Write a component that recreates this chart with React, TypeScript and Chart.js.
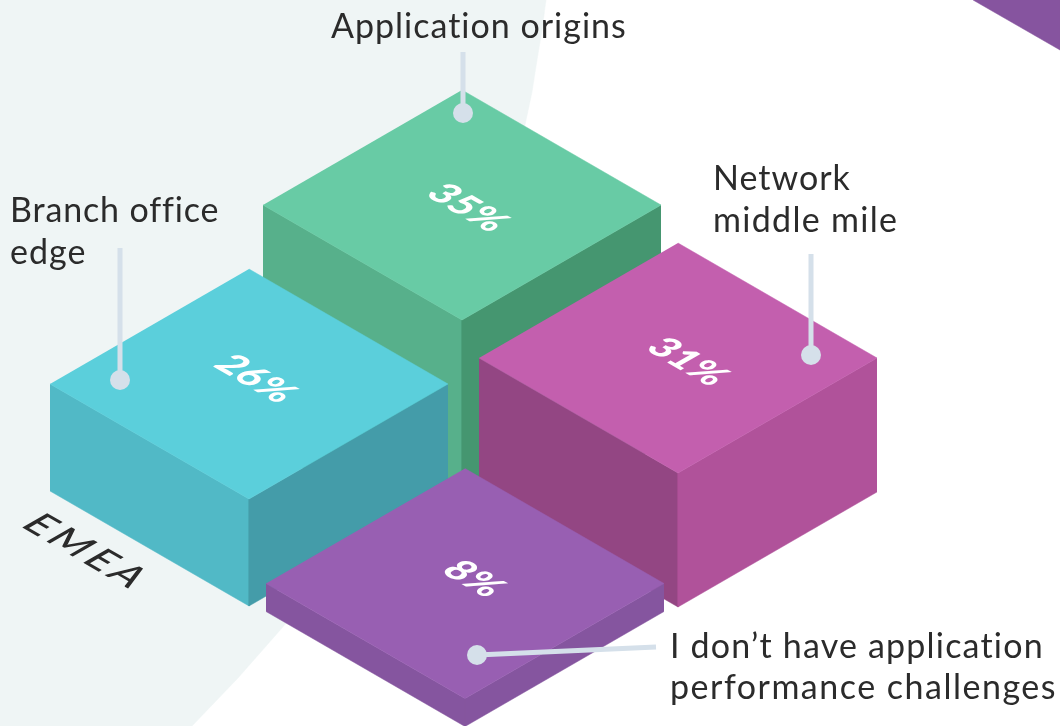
import React, { useEffect, useRef } from "react";
import { Chart, registerables } from "chart.js";

Chart.register(...registerables);

// Blocks, in plot units of a 1060 x 726 isometric plane
const blockNames = ["Application origins", "Branch office edge", "Network middle mile", "No challenges"];
const blockValues = ["35%", "26%", "31%", "8%"];
const blockCentreX = [462, 249, 678, 465];
const blockCentreY = [205, 384, 358, 583.5];
const blockHalfWidth = [199, 199, 199, 199];
const blockHalfHeight = [115, 115, 115, 115];
const blockDepth = [240, 107, 134, 28];
const topColours = ["#68cba5", "#5bcfdb", "#c35fae", "#985fb2"];
const leftColours = ["#57b08b", "#51b9c6", "#934683", "#85559f"];
const rightColours = ["#459670", "#449ca9", "#b0529a", "#85559f"];
const valueX = [468, 256, 688, 474];
const valueY = [208, 379, 362, 579];

// Backdrop shapes
const backdropX = [0, 546, 542, 537, 532, 525, 500, 460, 400, 340, 282, 238, 192, 0];
const backdropY = [0, 0, 30, 60, 92, 125, 220, 340, 470, 560, 628, 678, 726, 726];
const cornerX = [973, 1060, 1060];
const cornerY = [0, 50, 0];

// Leader lines
const leaderStartX = [463, 120, 811, 656];
const leaderStartY = [52, 248, 254, 647];
const leaderEndX = [463, 120, 811, 477];
const leaderEndY = [113, 380, 355, 655];

// Callout text
const calloutLines = [
  "Application origins",
  "Branch office",
  "edge",
  "Network",
  "middle mile",
  "I don\u2019t have application",
  "performance challenges",
];
const calloutX = [331, 10, 10, 713, 713, 670, 670];
const calloutY = [38, 222, 264, 190, 232, 658, 699];
const calloutSpacing = [1.0, 0.85, 1.0, 1.0, 1.3, 1.2, 1.5];
const regionLabel = "EMEA";

type Pt = { x: number; y: number };
const shape = (pts: Pt[], colour: string) => ({
  data: pts,
  showLine: true,
  fill: "shape",
  backgroundColor: colour,
  borderColor: colour,
  borderWidth: 0.5,
  pointRadius: 0,
  tension: 0,
});

function buildDatasets() {
  const painted: any[] = [];
  painted.push(shape(backdropX.map((x, i) => ({ x, y: backdropY[i] })), "#eff5f5"));
  painted.push(shape(cornerX.map((x, i) => ({ x, y: cornerY[i] })), "#86549f"));
  blockCentreX.forEach((cx, i) => {
    const cy = blockCentreY[i];
    const w = blockHalfWidth[i];
    const h = blockHalfHeight[i];
    const d = blockDepth[i];
    painted.push(
      shape(
        [
          { x: cx - w, y: cy },
          { x: cx, y: cy + h },
          { x: cx, y: cy + h + d },
          { x: cx - w, y: cy + d },
        ],
        leftColours[i],
      ),
    );
    painted.push(
      shape(
        [
          { x: cx + w, y: cy },
          { x: cx, y: cy + h },
          { x: cx, y: cy + h + d },
          { x: cx + w, y: cy + d },
        ],
        rightColours[i],
      ),
    );
    painted.push(
      shape(
        [
          { x: cx, y: cy - h },
          { x: cx + w, y: cy },
          { x: cx, y: cy + h },
          { x: cx - w, y: cy },
        ],
        topColours[i],
      ),
    );
    painted.push({
      data: [
        { x: leaderStartX[i], y: leaderStartY[i] },
        { x: leaderEndX[i], y: leaderEndY[i] },
      ],
      showLine: true,
      borderColor: "#d5e0ea",
      backgroundColor: "#d5e0ea",
      borderWidth: 5,
      pointRadius: [0, 10],
      pointBorderWidth: 0,
      label: blockNames[i],
    });
  });
  // Chart.js paints the first dataset last
  return painted.reverse();
}

const textPlugin = {
  id: "isoText",
  afterDatasetsDraw(chart: any) {
    const { ctx, scales } = chart;
    const sx = scales.x;
    const sy = scales.y;
    ctx.save();
    ctx.textBaseline = "alphabetic";
    ctx.textAlign = "left";
    ctx.fillStyle = "#2b2b2b";
    ctx.font = "400 34px Lato";
    calloutLines.forEach((t, i) => {
      (ctx as any).letterSpacing = `${calloutSpacing[i]}px`;
      ctx.fillText(t, sx.getPixelForValue(calloutX[i]), sy.getPixelForValue(calloutY[i]));
    });

    const iso = (x: number, y: number, draw: () => void) => {
      ctx.save();
      ctx.transform(0.866, 0.5, -0.866, 0.5, sx.getPixelForValue(x), sy.getPixelForValue(y));
      draw();
      ctx.restore();
    };
    ctx.textAlign = "center";
    ctx.textBaseline = "middle";
    ctx.fillStyle = "#ffffff";
    ctx.font = "900 38px Lato";
    (ctx as any).letterSpacing = "0.5px";
    blockValues.forEach((t, i) => {
      iso(valueX[i], valueY[i], () => ctx.fillText(t, 0, 0));
    });
    ctx.fillStyle = "#2b2b2b";
    ctx.font = "500 40px Lato";
    (ctx as any).letterSpacing = "5px";
    iso(87, 552, () => ctx.fillText(regionLabel, 0, 0));
    ctx.restore();
  },
};

export default function App() {
  const ref = useRef<HTMLCanvasElement>(null);
  useEffect(() => {
    const chart = new Chart(ref.current as HTMLCanvasElement, {
      type: "scatter",
      data: { datasets: buildDatasets() },
      options: {
        animation: false,
        responsive: false,
        layout: { padding: 0, autoPadding: false },
        plugins: { legend: { display: false }, tooltip: { enabled: false } },
        scales: {
          x: { type: "linear", min: 0, max: 1060, display: false },
          y: { type: "linear", min: 0, max: 726, reverse: true, display: false },
        },
      },
      plugins: [textPlugin],
    } as any);
    return () => chart.destroy();
  }, []);
  return (
    <canvas
      ref={ref}
      width={1060}
      height={726}
      style={{ position: "absolute", left: 0, top: 0, display: "block" }}
    />
  );
}
